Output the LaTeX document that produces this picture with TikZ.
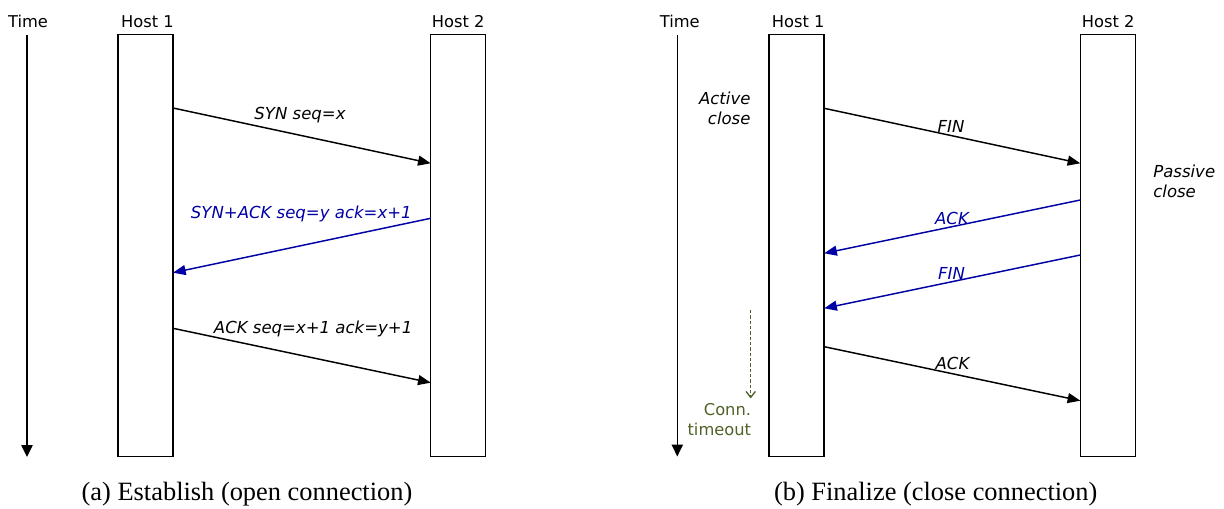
\documentclass[tikz,border=0pt]{standalone}
\usepackage{fontspec}
\setmainfont{DejaVu Sans}
\newfontfamily\capfont{Liberation Serif}
\usetikzlibrary{arrows.meta,calc}
\definecolor{msgblue}{RGB}{0,0,165}
\definecolor{timeoutgreen}{RGB}{79,98,40}

\begin{document}
\begin{tikzpicture}[x=0.75pt,y=-0.75pt,
  lbl/.style={font=\fontsize{12.2}{15}\selectfont, inner sep=0pt, outer sep=0pt},
  msg/.style={inner sep=0pt, outer sep=0pt, font=\fontsize{12.4}{15}\selectfont\itshape},
  hostbox/.style={draw, line width=1.1pt, inner sep=0pt, outer sep=0pt,
                  minimum width=41.25pt, minimum height=316.5pt},
  sendarrow/.style={line width=1.1pt, -{Triangle[length=9.5pt,width=7.5pt]}},
  replyarrow/.style={sendarrow, draw=msgblue},
  timeaxis/.style={line width=1.1pt, -{Triangle[length=9pt,width=8.5pt]}},
  timeoutarrow/.style={draw=timeoutgreen, line width=1.1pt, dash pattern=on 2.4pt off 1.6pt,
                       -{Straight Barb[length=4.5pt,width=7pt,line width=1pt]}},
  caption/.style={font=\capfont\fontsize{19.8}{22}\selectfont, inner sep=0pt, anchor=base}
]
\useasboundingbox (0,0) rectangle (1224,509);

% ---------------- (a) connection establishment ----------------
\node[lbl, anchor=base] (timeA) at (28,27.3) {Time};
\coordinate (tA0) at (27,35);
\coordinate (tA1) at (27,457);
\draw[timeaxis] (tA0) -- (tA1);

\node[lbl, anchor=base] (hostA1) at (147.5,27.3) {Host 1};
\node[lbl, anchor=base] (hostA2) at (458.2,27.3) {Host 2};
\node[hostbox] (boxA1) at (145.5,245.5) {};
\node[hostbox] (boxA2) at (458.2,245.5) {};

\draw[sendarrow]  ($(boxA1.north east)+(0,73.5)$)  -- ($(boxA2.north west)+(0,128.8)$);
\draw[replyarrow] ($(boxA2.north west)+(0,183.8)$) -- ($(boxA1.north east)+(0,238.2)$);
\draw[sendarrow]  ($(boxA1.north east)+(0,293.8)$) -- ($(boxA2.north west)+(0,348.2)$);

\node[msg, anchor=base] (synA) at (300,119.3) {SYN seq=x};
\node[msg, anchor=base east, text=msgblue] (synackA) at (411.7,218.3) {SYN+ACK seq=y ack=x+1};
\node[msg, anchor=base east] (ackA) at (412.3,333.3) {ACK seq=x+1 ack=y+1};

\node[caption] (capA) at (247,500.5) {(a) Establish (open connection)};

% ---------------- (b) connection termination ----------------
\node[lbl, anchor=base] (timeB) at (679.7,28) {Time};
\coordinate (tB0) at (677.3,35);
\coordinate (tB1) at (677.3,456.5);
\draw[timeaxis] (tB0) -- (tB1);

\node[lbl, anchor=base] (hostB1) at (798.2,27.7) {Host 1};
\node[lbl, anchor=base] (hostB2) at (1108.2,27.7) {Host 2};
\node[hostbox] (boxB1) at (796.7,245.5) {};
\node[hostbox] (boxB2) at (1107.8,245.5) {};

\draw[sendarrow]  ($(boxB1.north east)+(0,73.8)$)  -- ($(boxB2.north west)+(0,128.8)$);
\draw[replyarrow] ($(boxB2.north west)+(0,165.5)$) -- ($(boxB1.north east)+(0,218.8)$);
\draw[replyarrow] ($(boxB2.north west)+(0,220.5)$) -- ($(boxB1.north east)+(0,273.8)$);
\draw[sendarrow]  ($(boxB1.north east)+(0,312.2)$) -- ($(boxB2.north west)+(0,366.2)$);

\node[msg, anchor=base] (finB1) at (951,132.7) {FIN};
\node[msg, anchor=base, text=msgblue] (ackB1) at (952,224.3) {ACK};
\node[msg, anchor=base, text=msgblue] (finB2) at (951.5,280) {FIN};
\node[msg, anchor=base] (ackB2) at (952.5,370) {ACK};

\node[msg, anchor=east, align=right] (active) at (750.5,108.2) {Active\\close};
\node[msg, anchor=west, align=left] (passive) at (1153.3,181.2) {Passive\\close};

\coordinate (toA) at (750.7,310);
\coordinate (toB) at (750.7,398.5);
\draw[timeoutarrow] (toA) -- (toB);
\node[lbl, anchor=east, align=right, text=timeoutgreen] (timeout) at (751,419.7) {Conn.\\timeout};

\node[caption] (capB) at (935.7,500.5) {(b) Finalize (close connection)};
\end{tikzpicture}
\end{document}
